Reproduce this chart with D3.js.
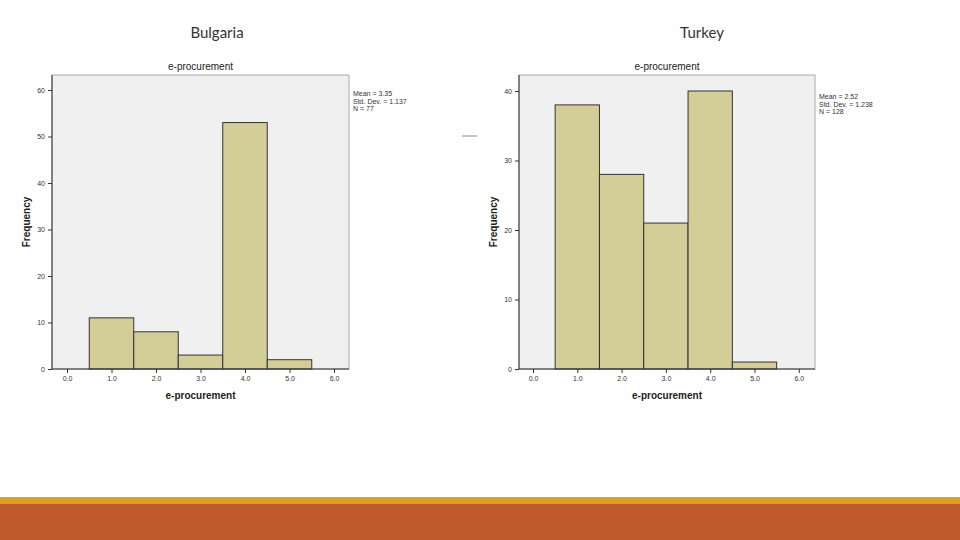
<!DOCTYPE html>
<html><head><meta charset="utf-8">
<script src="https://d3js.org/d3.v7.min.js"></script>
<style>body{margin:0;background:#fff}</style></head>
<body><svg id="c" width="960" height="540"></svg>
<script>
const categories = [1, 2, 3, 4, 5];
const bulgariaValues = [11, 8, 3, 53, 2];
const turkeyValues = [38, 28, 21, 40, 1];
const bulgariaTicks = [0, 10, 20, 30, 40, 50, 60];
const turkeyTicks = [0, 10, 20, 30, 40];
const xTicks = [0, 1, 2, 3, 4, 5, 6];
const bulgariaStats = ["Mean = 3.35", "Std. Dev. = 1.137", "N = 77"];
const turkeyStats = ["Mean = 2.52", "Std. Dev. = 1.238", "N = 128"];

const svg = d3.select("#c");
svg.append("rect").attr("x",0).attr("y",497).attr("width",960).attr("height",7).attr("fill","#d9a21f");
svg.append("rect").attr("x",0).attr("y",504).attr("width",960).attr("height",36).attr("fill","#c05a2b");

function panel(o){
  const g = svg.append("g");
  g.append("text").attr("x",o.titleX).attr("y",38).attr("text-anchor","middle")
    .attr("font-family","Lato, sans-serif").attr("font-size",15).attr("fill","#333").text(o.country);
  g.append("rect").attr("x",o.left).attr("y",75).attr("width",o.right-o.left).attr("height",294)
    .attr("fill","#f0f0f0").attr("stroke","#999").attr("stroke-width",0.8);
  const x = d3.scaleLinear().domain([0,6]).range([o.x0, o.x0+6*o.unit]);
  const y = d3.scaleLinear().domain([0,o.ymax]).range([369, o.yTop]);
  g.selectAll(".bar").data(o.values).join("rect")
    .attr("x",(d,i)=>x(categories[i]-0.5)).attr("y",d=>y(d))
    .attr("width",x(1)-x(0)).attr("height",d=>y(0)-y(d))
    .attr("fill","#d3cd97").attr("stroke","#333").attr("stroke-width",1);
  const ya = g.append("g").attr("transform",`translate(${o.left},0)`)
    .call(d3.axisLeft(y).tickValues(o.yTicks).tickSize(4).tickSizeOuter(0));
  const xa = g.append("g").attr("transform",`translate(0,369)`)
    .call(d3.axisBottom(x).tickValues(xTicks).tickSize(4).tickSizeOuter(0));
  [ya,xa].forEach(a=>{a.select(".domain").remove();a.selectAll("line").attr("stroke","#333");
    a.selectAll("text").attr("font-family","Arial, sans-serif").attr("font-size",7).attr("fill","#333");});
  g.append("line").attr("x1",o.left).attr("x2",o.right).attr("y1",369).attr("y2",369).attr("stroke","#333");
  g.append("line").attr("x1",o.left).attr("x2",o.left).attr("y1",75).attr("y2",369).attr("stroke","#333");
  g.append("text").attr("x",(o.left+o.right)/2).attr("y",70).attr("text-anchor","middle")
    .attr("font-family","Arial, sans-serif").attr("font-size",10).attr("fill","#222").text("e-procurement");
  g.append("text").attr("x",(o.left+o.right)/2).attr("y",399).attr("text-anchor","middle")
    .attr("font-family","Arial, sans-serif").attr("font-size",10).attr("font-weight","bold").attr("fill","#222").text("e-procurement");
  g.append("text").attr("transform",`translate(${o.left-22},222) rotate(-90)`).attr("text-anchor","middle")
    .attr("font-family","Arial, sans-serif").attr("font-size",10).attr("font-weight","bold").attr("fill","#222").text("Frequency");
  g.append("g").selectAll("text").data(o.stats).join("text")
    .attr("x",o.right+4).attr("y",(d,i)=>o.statsY+i*7.5)
    .attr("font-family","Arial, sans-serif").attr("font-size",7).attr("fill","#333").text(d=>d);
}
panel({country:"Bulgaria",titleX:217,left:52,right:349,x0:67,unit:44.5,ymax:60,yTop:90,
  values:bulgariaValues,yTicks:bulgariaTicks,stats:bulgariaStats,statsY:96});
panel({country:"Turkey",titleX:702,left:519,right:815,x0:533,unit:44.3,ymax:40,yTop:91,
  values:turkeyValues,yTicks:turkeyTicks,stats:turkeyStats,statsY:99});
svg.append("line").attr("x1",462).attr("x2",477).attr("y1",136).attr("y2",136).attr("stroke","#888");
</script></body></html>
